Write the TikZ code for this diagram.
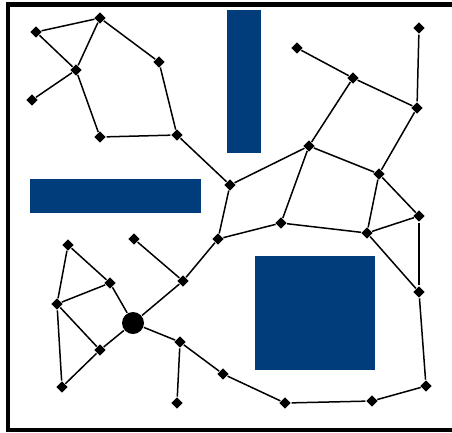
\documentclass[tikz,border=0pt]{standalone}
\usetikzlibrary{shapes.geometric}
\definecolor{wallblue}{RGB}{0,61,122}
\tikzset{
  pt/.style={diamond, fill=black, inner sep=0pt, minimum size=12pt},
  hubpt/.style={circle, fill=black, inner sep=0pt, minimum size=22pt},
  wall/.style={fill=wallblue}
}
\begin{document}
\begin{tikzpicture}[x=1pt, y=-1pt, line width=1.5pt]
        \useasboundingbox (0,0) rectangle (452,432);
        \clip (0,0) rectangle (452,432);
        \fill[white] (0,0) rectangle (452,432);
        \draw[line width=4.5pt] (8,4.5) rectangle (470,430);

        % obstacles
        \fill[wall] (227,10) rectangle (261,153);
        \fill[wall] (30,179) rectangle (201,213);
        \fill[wall] (255,256) rectangle (375,370);

        \node[pt] (a1) at (36,32) {};
        \node[pt] (a2) at (100,18) {};
        \node[pt] (a3) at (76,70) {};
        \node[pt] (a4) at (32,100) {};
        \node[pt] (a5) at (159,62) {};
        \node[pt] (a6) at (100,137) {};
        \node[pt] (a7) at (177,135) {};
        \node[pt] (c1) at (230,185) {};

        \node[pt] (b1) at (419,28) {};
        \node[pt] (b2) at (297,48) {};
        \node[pt] (b3) at (353,78) {};
        \node[pt] (b4) at (417,108) {};
        \node[pt] (b5) at (309,146) {};
        \node[pt] (b6) at (379,174) {};
        \node[pt] (b7) at (419,216) {};

        \node[pt] (d1) at (281,223) {};
        \node[pt] (d2) at (367,233) {};
        \node[pt] (d3) at (218,239) {};

        \node[pt] (e1) at (419,292) {};
        \node[pt] (e2) at (426,386) {};
        \node[pt] (e3) at (372,401) {};
        \node[pt] (e4) at (285,403) {};
        \node[pt] (e5) at (223,374) {};

        \node[pt] (f1) at (68,245) {};
        \node[pt] (f2) at (134,239) {};
        \node[pt] (f3) at (110,283) {};
        \node[pt] (f4) at (183,281) {};
        \node[pt] (f5) at (57,304) {};
        \node[hubpt] (hub) at (133,323) {};
        \node[pt] (f6) at (100,350) {};
        \node[pt] (f7) at (180,342) {};
        \node[pt] (f8) at (62,387) {};
        \node[pt] (f9) at (177,403) {};

        \draw (a1) -- (a2);
        \draw (a1) -- (a3);
        \draw (a2) -- (a3);
        \draw (a3) -- (a4);
        \draw (a2) -- (a5);
        \draw (a3) -- (a6);
        \draw (a6) -- (a7);
        \draw (a5) -- (a7);
        \draw (a7) -- (c1);

        \draw (b1) -- (b4);
        \draw (b2) -- (b3);
        \draw (b3) -- (b4);
        \draw (b3) -- (b5);
        \draw (b4) -- (b6);
        \draw (b5) -- (b6);
        \draw (c1) -- (b5);
        \draw (b5) -- (d1);
        \draw (b6) -- (d2);
        \draw (b6) -- (b7);

        \draw (c1) -- (d3);
        \draw (d3) -- (d1);
        \draw (d1) -- (d2);
        \draw (d2) -- (b7);
        \draw (d2) -- (e1);
        \draw (b7) -- (e1);
        \draw (e1) -- (e2);
        \draw (e2) -- (e3);
        \draw (e3) -- (e4);
        \draw (e4) -- (e5);

        \draw (f1) -- (f3);
        \draw (f1) -- (f5);
        \draw (f5) -- (f3);
        \draw (f3) -- (hub);
        \draw (f5) -- (f6);
        \draw (f5) -- (f8);
        \draw (f6) -- (f8);
        \draw (f6) -- (hub);
        \draw (hub) -- (f4);
        \draw (f2) -- (f4);
        \draw (f4) -- (d3);
        \draw (hub) -- (f7);
        \draw (f7) -- (f9);
        \draw (f7) -- (e5);
\end{tikzpicture}
\end{document}
